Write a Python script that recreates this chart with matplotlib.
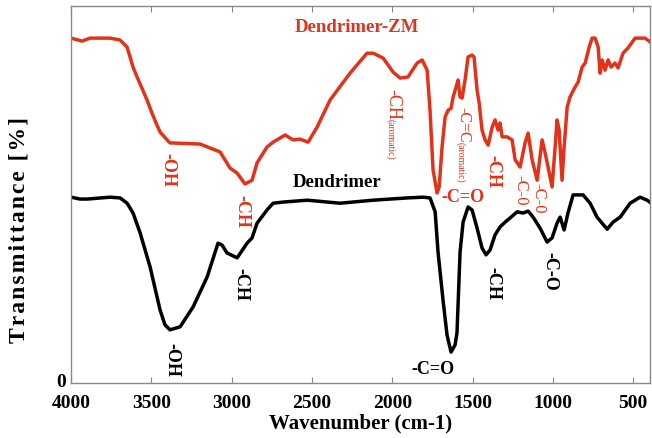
import matplotlib
matplotlib.use("Agg")
import matplotlib.pyplot as plt

plt.rcParams['font.family'] = ['Liberation Serif', 'DejaVu Serif']

# Dendrimer-ZM spectrum (red)
wn_zm = [4000, 3956, 3932, 3882, 3757, 3695, 3651, 3614, 3589, 3527, 3496, 3465, 3446, 3402,
         3384, 3197, 3072, 3010, 2966,
         2917, 2873, 2842, 2780, 2742, 2667, 2618, 2574, 2524, 2468, 2387, 2263, 2157, 2119,
         2057, 1995, 1951, 1902, 1845, 1814, 1783, 1765, 1746, 1721, 1708, 1690, 1671, 1652,
         1634, 1621, 1603, 1590, 1578, 1565, 1547, 1528, 1503, 1491, 1472, 1459, 1441, 1422,
         1403, 1378, 1360, 1341, 1329, 1316, 1285, 1254, 1235, 1204, 1173, 1154, 1129, 1098,
         1067, 1048, 1030, 1005, 986, 974, 961, 943, 930, 911, 893, 862, 843, 818, 799, 774,
         756, 737, 718, 706, 693, 675, 656, 637, 613, 594, 563, 532, 488, 426, 395]
t_zm = [91.5, 91.0, 90.7, 91.5, 91.5, 91.0, 89.1, 83.8, 81.2, 75.1, 71.6, 68.4, 66.6, 64.5,
        63.7, 63.4, 61.3, 57.0, 55.7,
        52.8, 53.8, 58.4, 62.6, 63.9, 65.8, 64.5, 64.7, 63.9, 67.9, 75.1, 82.2, 87.5, 87.5,
        86.2, 82.5, 80.9, 81.2, 84.9, 85.7, 83.0, 72.4, 56.5, 50.4, 52.0, 62.6, 70.6, 72.4,
        72.9, 75.9, 78.5, 80.4, 75.9, 75.6, 80.4, 86.5, 87.0, 86.5, 77.7, 74.3, 67.1, 64.5,
        63.1, 67.9, 69.8, 67.1, 69.0, 65.3, 65.3, 64.5, 59.2, 57.3, 63.7, 66.3, 59.2, 53.8,
        64.5, 61.0, 57.3, 52.0, 62.6, 69.8, 67.1, 53.8, 62.6, 73.2, 75.9, 78.5, 79.8, 83.8,
        84.9, 89.1, 91.5, 91.5, 89.1, 82.2, 85.7, 83.0, 85.7, 83.8, 84.9, 83.6, 87.5, 88.9,
        91.5, 91.5, 90.5]

# Dendrimer spectrum (black)
wn_d = [4000, 3944, 3900, 3757, 3695, 3651, 3614, 3570, 3508, 3446, 3415, 3384, 3321, 3240,
        3153, 3085, 3060, 3029, 2966, 2904, 2873, 2842, 2780, 2742, 2680, 2530, 2325, 2119,
        1908, 1808, 1765, 1733, 1715, 1684, 1659, 1634, 1609, 1597, 1578, 1559, 1528, 1503,
        1472, 1441, 1416, 1391, 1360, 1329, 1297, 1266, 1223, 1185, 1154, 1123, 1080, 1036,
        1005, 974, 955, 930, 906, 874, 812, 768, 725, 662, 625, 581, 519, 457, 413, 388]
t_d = [49.3, 48.8, 48.8, 49.3, 49.1, 47.7, 45.1, 39.8, 30.8, 19.4, 15.4, 14.1, 14.9, 20.2,
       28.1, 37.1, 36.6, 34.5, 33.2, 37.1, 38.5, 42.4, 45.9, 47.7, 48.0, 48.5, 47.7, 48.5,
       49.1, 49.3, 49.1, 45.4, 34.7, 22.0, 12.7, 8.2, 10.1, 13.3, 34.7, 42.7, 46.7, 45.9,
       41.1, 35.8, 34.0, 35.3, 39.3, 41.4, 42.7, 43.8, 45.4, 45.1, 45.6, 44.0, 41.1, 37.4,
       38.5, 42.4, 44.0, 40.6, 45.1, 49.9, 49.9, 47.7, 44.0, 40.8, 42.7, 44.0, 47.7, 49.3,
       48.5, 47.7]

x_ticks = [4000, 3500, 3000, 2500, 2000, 1500, 1000, 500]

red = '#e2331a'

fig = plt.figure(figsize=(6.52, 4.38), dpi=100)
ax = fig.add_axes([0.109, 0.1256, 0.888, 0.8605])

ax.plot(wn_zm, t_zm, color=red, lw=2.5, solid_joinstyle='round')
ax.plot(wn_d, t_d, color='black', lw=2.5, solid_joinstyle='round')

ax.set_xlim(4000, 395)
ax.set_ylim(0, 100)
ax.set_xticks(x_ticks)
ax.set_xticklabels([str(t) for t in x_ticks], fontsize=14, fontweight='bold')
ax.set_yticks([0])
ax.set_yticklabels(['0'], fontsize=14, fontweight='bold', va='center')
ax.tick_params(axis='x', direction='in', top=True, length=4, color='#888888', pad=9)
ax.tick_params(axis='y', length=0, pad=4)
for s in ax.spines.values():
    s.set_color('#888888')
    s.set_linewidth(1.0)

ax.set_xlabel('Wavenumber (cm-1)', fontsize=15, fontweight='bold', labelpad=1)
ylab = '\u200a'.join('Transmittance') + '\u200a \u200a' + '\u200a'.join('[%]')
ax.set_ylabel(ylab, fontsize=17, fontweight='bold')
ax.yaxis.set_label_coords(-0.072, 0.405)

# curve names
ax.text(2219, 94.2, 'Dendrimer-ZM', color=red, fontsize=13.5, fontweight='bold', ha='center', va='center')
ax.text(2344, 53.1, 'Dendrimer', color='black', fontsize=13.5, fontweight='bold', ha='center', va='center')

# red annotations
ax.text(3396, 56.5, '-OH', color=red, fontsize=13, fontweight='bold', rotation=-90, ha='center', va='center')
ax.text(2935, 45.4, '-CH', color=red, fontsize=13, fontweight='bold', rotation=-90, ha='center', va='center')
ax.text(1995, 74.0, '-CH', color=red, fontsize=13, rotation=-90, ha='center', va='center')
ax.text(2010, 64.7, '(aromatic)', color=red, fontsize=7, rotation=-90, ha='center', va='center')
ax.text(1559, 49.3, '-C=O', color=red, fontsize=13, fontweight='bold', ha='center', va='center')
ax.text(1559, 68.4, '-C=C', color=red, fontsize=11.5, rotation=-90, ha='center', va='center')
ax.text(1578, 58.6, '(aromatic)', color=red, fontsize=7, rotation=-90, ha='center', va='center')
ax.text(1372, 56.2, '-CH', color=red, fontsize=13, fontweight='bold', rotation=-90, ha='center', va='center')
ax.text(1204, 51.2, '-C-0', color=red, fontsize=12, rotation=-90, ha='center', va='center')
ax.text(1092, 49.1, '-C-0', color=red, fontsize=12, rotation=-90, ha='center', va='center')

# black annotations
ax.text(2941, 26.0, '-CH', color='black', fontsize=13, fontweight='bold', rotation=-90, ha='center', va='center')
ax.text(3371, 6.1, '-OH', color='black', fontsize=13, fontweight='bold', rotation=-90, ha='center', va='center')
ax.text(1746, 3.7, '-C=O', color='black', fontsize=13, fontweight='bold', ha='center', va='center')
ax.text(1372, 26.5, '-CH', color='black', fontsize=13, fontweight='bold', rotation=-90, ha='center', va='center')
ax.text(1017, 29.7, '-C-O', color='black', fontsize=13, fontweight='bold', rotation=-90, ha='center', va='center')

plt.savefig('out.png', dpi=100)
